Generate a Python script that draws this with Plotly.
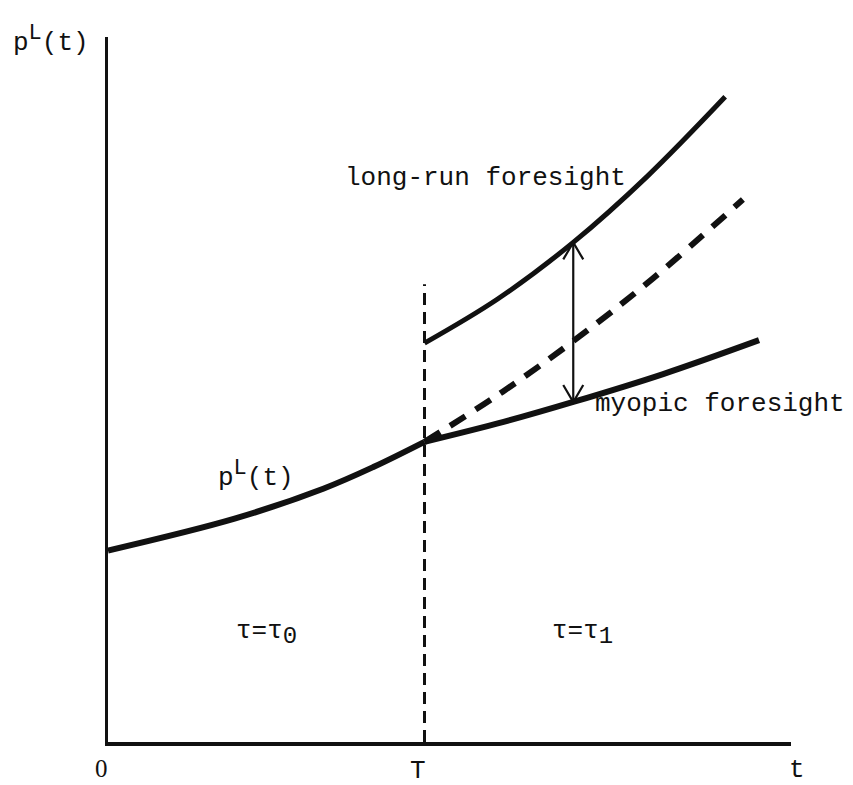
import plotly.graph_objects as go

# ---- data (t in units where T = 10, p in arbitrary units) ----
pre_t = [0.0, 4.0, 6.8, 8.4, 10.0]
pre_p = [19.2, 22.4, 25.4, 27.6, 30.1]

myo_t = [10.0, 12.5, 14.7, 17.54, 20.57]
myo_p = [30.1, 32.1, 34.1, 36.9, 40.3]

lr_t = [10.0, 12.3, 14.7, 17.03, 19.5]
lr_p = [40.0, 44.4, 50.1, 56.7, 64.7]

mid_t = [10.0, 12.34, 14.7, 17.22, 20.06]
mid_p = [30.1, 34.85, 40.2, 46.5, 54.4]

T_val = 10.0
T_line_top = 45.9
gap_t = 14.7
gap_low = 34.1
gap_high = 50.1

X_MAX = 21.58
Y_MAX = 70.7

# page body has an 8px margin; figure placed accordingly
W, H = 837, 777
ML, MR, MT, MB = 100, 54, 29, 43
px_x = (W - ML - MR) / X_MAX
px_y = (H - MT - MB) / Y_MAX

FONT = "Liberation Mono"
INK = "#111111"

fig = go.Figure()

def line(x, y, width, dash=None, shape="spline"):
    fig.add_trace(go.Scatter(
        x=x, y=y, mode="lines",
        line=dict(color=INK, width=width, dash=dash, shape=shape, smoothing=1.0),
        hoverinfo="skip", showlegend=False))

line(pre_t, pre_p, 6)
line(myo_t, myo_p, 6)
line(lr_t, lr_p, 5)
line(mid_t, mid_p, 6, dash="18px,12px")
line([T_val, T_val], [0, T_line_top], 3, dash="12px,7px", shape="linear")

# double-headed arrow between the two regimes
line([gap_t, gap_t], [gap_low, gap_high], 2.2, shape="linear")
wx = 10 / px_x
wy = 17 / px_y
line([gap_t - wx, gap_t, gap_t + wx], [gap_high - wy, gap_high, gap_high - wy], 2.2, shape="linear")
line([gap_t - wx, gap_t, gap_t + wx], [gap_low + wy, gap_low, gap_low + wy], 2.2, shape="linear")

def label(x, y, text, size=26, family=FONT):
    fig.add_annotation(x=x / X_MAX, y=y / Y_MAX, xref="paper", yref="paper",
                       text=text, showarrow=False,
                       font=dict(family=family, size=size, color=INK),
                       xanchor="center", yanchor="middle")

SUP_L = "p<sup><span style='font-size:22px'>L</span></sup>(t)"
label(-1.8, 70.4, SUP_L)
label(4.67, 26.8, SUP_L)
label(11.92, 56.6, "long-run foresight")
label(19.34, 33.9, "myopic foresight")
label(5.02, 10.9, "τ=τ<sub><span style='font-size:24px'>0</span></sub>")
label(14.98, 10.9, "τ=τ<sub><span style='font-size:24px'>1</span></sub>")
label(-0.22, -2.7, "0", family="Liberation Serif", size=25)
label(9.78, -2.9, "T")
label(X_MAX + 0.2, -2.8, "t")

fig.update_xaxes(range=[0, X_MAX], showline=True, linewidth=3.5, linecolor=INK,
                 showgrid=False, zeroline=False, showticklabels=False, ticks="")
fig.update_yaxes(range=[0, Y_MAX], showline=True, linewidth=3, linecolor=INK,
                 showgrid=False, zeroline=False, showticklabels=False, ticks="")

fig.update_layout(width=W, height=H, autosize=False,
                  margin=dict(l=ML, r=MR, t=MT, b=MB),
                  paper_bgcolor="white", plot_bgcolor="white")

fig.write_html("out.html")
